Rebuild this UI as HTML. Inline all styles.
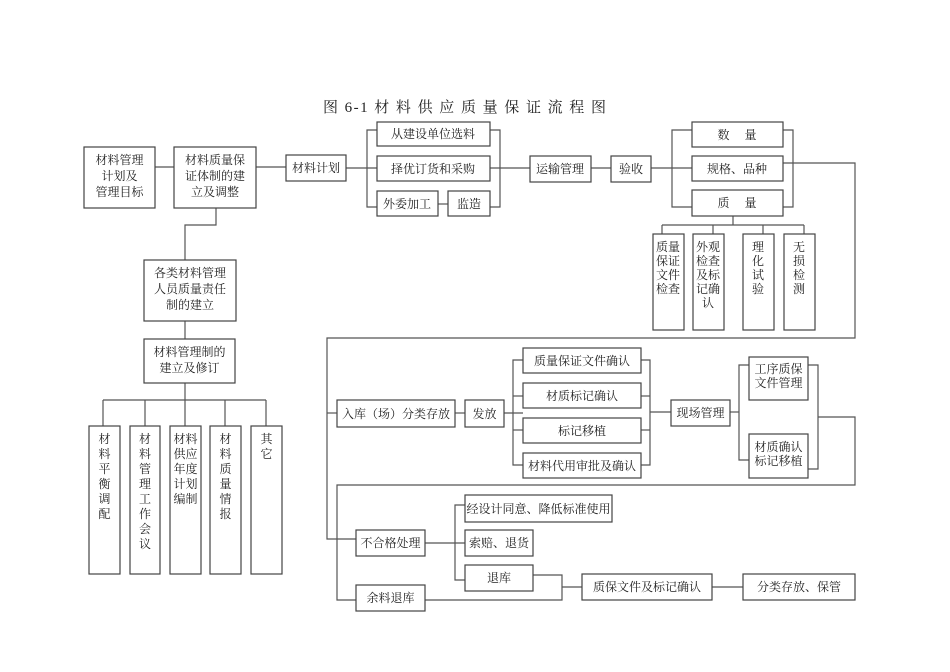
<!DOCTYPE html>
<html><head><meta charset="utf-8"><style>
html,body{margin:0;padding:0;background:#fff;}
svg{display:block;}
text{font-family:"Liberation Serif","Noto Serif CJK SC","Noto Sans CJK SC",serif;font-size:12px;fill:#222;}
rect{fill:#fff;stroke:#444;stroke-width:1.2;}
line,polyline{stroke:#555;stroke-width:1.2;fill:none;}
</style></head><body>
<svg width="950" height="672" viewBox="0 0 950 672" xmlns="http://www.w3.org/2000/svg">
<text x="323" y="112" style="font-size:15px" textLength="283" lengthAdjust="spacing">图 6-1 材 料 供 应 质 量 保 证 流 程 图</text>

<!-- connectors -->
<line x1="155" y1="167" x2="174" y2="167"/>
<line x1="256" y1="167" x2="286" y2="167"/>
<line x1="346" y1="168" x2="377" y2="168"/>
<polyline points="377,130 367,130 367,207 377,207"/>
<line x1="438" y1="204" x2="448" y2="204"/>
<polyline points="490,130 500,130 500,207 490,207"/>
<line x1="490" y1="168" x2="530" y2="168"/>
<line x1="591" y1="168" x2="611" y2="168"/>
<line x1="651" y1="168" x2="692" y2="168"/>
<polyline points="692,130 672,130 672,207 692,207"/>
<polyline points="783,130 793,130 793,207 783,207"/>
<polyline points="783,163 855,163 855,338 327,338 327,539 356,539"/>
<line x1="327" y1="413" x2="337" y2="413"/>
<line x1="733" y1="216" x2="733" y2="225"/>
<line x1="662" y1="225" x2="804" y2="225"/>
<line x1="662" y1="225" x2="662" y2="234"/>
<line x1="713" y1="225" x2="713" y2="234"/>
<line x1="763" y1="225" x2="763" y2="234"/>
<line x1="804" y1="225" x2="804" y2="234"/>
<polyline points="216,208 216,225 185,225 185,260"/>
<line x1="185" y1="321" x2="185" y2="339"/>
<line x1="185" y1="383" x2="185" y2="400"/>
<line x1="103" y1="400" x2="266" y2="400"/>
<line x1="103" y1="400" x2="103" y2="426"/>
<line x1="145" y1="400" x2="145" y2="426"/>
<line x1="185" y1="400" x2="185" y2="426"/>
<line x1="225" y1="400" x2="225" y2="426"/>
<line x1="266" y1="400" x2="266" y2="426"/>

<line x1="455" y1="413" x2="465" y2="413"/>
<line x1="504" y1="413" x2="523" y2="413"/>
<polyline points="523,360 513,360 513,465 523,465"/>
<line x1="513" y1="396" x2="523" y2="396"/>
<line x1="513" y1="430" x2="523" y2="430"/>
<polyline points="641,360 650,360 650,465 641,465"/>
<line x1="641" y1="396" x2="650" y2="396"/>
<line x1="641" y1="430" x2="650" y2="430"/>
<line x1="650" y1="412" x2="671" y2="412"/>
<line x1="730" y1="412" x2="739" y2="412"/>
<polyline points="749,365 739,365 739,460 749,460"/>
<polyline points="808,365 818,365 818,469 808,469"/>
<polyline points="818,417 855,417 855,485 337,485 337,600 356,600"/>
<line x1="425" y1="543" x2="465" y2="543"/>
<polyline points="465,505 455,505 455,580 465,580"/>
<polyline points="533,575 562,575 562,600 425,600"/>
<line x1="562" y1="587" x2="582" y2="587"/>
<line x1="712" y1="587" x2="743" y2="587"/>

<!-- boxes -->
<rect x="84" y="147" width="71" height="61"/>
<text x="119.5" y="164" text-anchor="middle">材料管理</text>
<text x="119.5" y="180" text-anchor="middle">计划及</text>
<text x="119.5" y="196" text-anchor="middle">管理目标</text>
<rect x="174" y="147" width="82" height="61"/>
<text x="215" y="164" text-anchor="middle">材料质量保</text>
<text x="215" y="180" text-anchor="middle">证体制的建</text>
<text x="215" y="196" text-anchor="middle">立及调整</text>
<rect x="286" y="155" width="60" height="26"/><text x="316" y="172" text-anchor="middle">材料计划</text>
<rect x="377" y="122" width="113" height="24"/><text x="433" y="138" text-anchor="middle">从建设单位选料</text>
<rect x="377" y="156" width="113" height="25"/><text x="433" y="173" text-anchor="middle">择优订货和采购</text>
<rect x="377" y="191" width="61" height="25"/><text x="407" y="208" text-anchor="middle">外委加工</text>
<rect x="448" y="191" width="42" height="25"/><text x="469" y="208" text-anchor="middle">监造</text>
<rect x="530" y="156" width="61" height="26"/><text x="560" y="173" text-anchor="middle">运输管理</text>
<rect x="611" y="156" width="40" height="26"/><text x="631" y="173" text-anchor="middle">验收</text>
<rect x="692" y="122" width="91" height="25"/><text x="737" y="139" text-anchor="middle">数　 量</text>
<rect x="692" y="156" width="91" height="25"/><text x="737" y="173" text-anchor="middle">规格、品种</text>
<rect x="692" y="190" width="91" height="26"/><text x="737" y="207" text-anchor="middle">质　 量</text>

<rect x="653" y="234" width="31" height="96"/>
<text x="668" y="251" text-anchor="middle">质量</text><text x="668" y="265" text-anchor="middle">保证</text><text x="668" y="279" text-anchor="middle">文件</text><text x="668" y="293" text-anchor="middle">检查</text>
<rect x="693" y="234" width="31" height="96"/>
<text x="708" y="251" text-anchor="middle">外观</text><text x="708" y="265" text-anchor="middle">检查</text><text x="708" y="279" text-anchor="middle">及标</text><text x="708" y="293" text-anchor="middle">记确</text><text x="708" y="307" text-anchor="middle">认</text>
<rect x="743" y="234" width="31" height="96"/>
<text x="758" y="251" text-anchor="middle">理</text><text x="758" y="265" text-anchor="middle">化</text><text x="758" y="279" text-anchor="middle">试</text><text x="758" y="293" text-anchor="middle">验</text>
<rect x="784" y="234" width="31" height="96"/>
<text x="799" y="251" text-anchor="middle">无</text><text x="799" y="265" text-anchor="middle">损</text><text x="799" y="279" text-anchor="middle">检</text><text x="799" y="293" text-anchor="middle">测</text>

<rect x="144" y="260" width="92" height="61"/>
<text x="190" y="277" text-anchor="middle">各类材料管理</text>
<text x="190" y="293" text-anchor="middle">人员质量责任</text>
<text x="190" y="309" text-anchor="middle">制的建立</text>
<rect x="144" y="339" width="91" height="44"/>
<text x="189.5" y="356" text-anchor="middle">材料管理制的</text>
<text x="189.5" y="372" text-anchor="middle">建立及修订</text>

<rect x="89" y="426" width="31" height="148"/>
<text x="104.5" y="443" text-anchor="middle">材</text><text x="104.5" y="458" text-anchor="middle">料</text><text x="104.5" y="473" text-anchor="middle">平</text><text x="104.5" y="488" text-anchor="middle">衡</text><text x="104.5" y="503" text-anchor="middle">调</text><text x="104.5" y="518" text-anchor="middle">配</text>
<rect x="130" y="426" width="30" height="148"/>
<text x="145" y="443" text-anchor="middle">材</text><text x="145" y="458" text-anchor="middle">料</text><text x="145" y="473" text-anchor="middle">管</text><text x="145" y="488" text-anchor="middle">理</text><text x="145" y="503" text-anchor="middle">工</text><text x="145" y="518" text-anchor="middle">作</text><text x="145" y="533" text-anchor="middle">会</text><text x="145" y="548" text-anchor="middle">议</text>
<rect x="170" y="426" width="31" height="148"/>
<text x="185.5" y="443" text-anchor="middle">材料</text><text x="185.5" y="458" text-anchor="middle">供应</text><text x="185.5" y="473" text-anchor="middle">年度</text><text x="185.5" y="488" text-anchor="middle">计划</text><text x="185.5" y="503" text-anchor="middle">编制</text>
<rect x="210" y="426" width="31" height="148"/>
<text x="225.5" y="443" text-anchor="middle">材</text><text x="225.5" y="458" text-anchor="middle">料</text><text x="225.5" y="473" text-anchor="middle">质</text><text x="225.5" y="488" text-anchor="middle">量</text><text x="225.5" y="503" text-anchor="middle">情</text><text x="225.5" y="518" text-anchor="middle">报</text>
<rect x="251" y="426" width="31" height="148"/>
<text x="266.5" y="443" text-anchor="middle">其</text><text x="266.5" y="458" text-anchor="middle">它</text>

<rect x="337" y="400" width="118" height="27"/><text x="396" y="418" text-anchor="middle">入库（场）分类存放</text>
<rect x="465" y="400" width="39" height="27"/><text x="484.5" y="418" text-anchor="middle">发放</text>
<rect x="523" y="348" width="118" height="25"/><text x="582" y="365" text-anchor="middle">质量保证文件确认</text>
<rect x="523" y="383" width="118" height="25"/><text x="582" y="400" text-anchor="middle">材质标记确认</text>
<rect x="523" y="418" width="118" height="25"/><text x="582" y="435" text-anchor="middle">标记移植</text>
<rect x="523" y="453" width="118" height="25"/><text x="582" y="470" text-anchor="middle">材料代用审批及确认</text>
<rect x="671" y="400" width="59" height="26"/><text x="700.5" y="417" text-anchor="middle">现场管理</text>
<rect x="749" y="357" width="59" height="43"/>
<text x="778.5" y="373" text-anchor="middle">工序质保</text><text x="778.5" y="387" text-anchor="middle">文件管理</text>
<rect x="749" y="434" width="59" height="44"/>
<text x="778.5" y="451" text-anchor="middle">材质确认</text><text x="778.5" y="465" text-anchor="middle">标记移植</text>

<rect x="356" y="530" width="69" height="26"/><text x="390.5" y="547" text-anchor="middle">不合格处理</text>
<rect x="465" y="495" width="147" height="27"/><text x="538.5" y="513" text-anchor="middle">经设计同意、降低标准使用</text>
<rect x="465" y="530" width="68" height="26"/><text x="499" y="547" text-anchor="middle">索赔、退货</text>
<rect x="465" y="565" width="68" height="26"/><text x="499" y="582" text-anchor="middle">退库</text>
<rect x="356" y="585" width="69" height="26"/><text x="390.5" y="602" text-anchor="middle">余料退库</text>
<rect x="582" y="574" width="130" height="26"/><text x="647" y="591" text-anchor="middle">质保文件及标记确认</text>
<rect x="743" y="574" width="112" height="26"/><text x="799" y="591" text-anchor="middle">分类存放、保管</text>
</svg>
</body></html>
